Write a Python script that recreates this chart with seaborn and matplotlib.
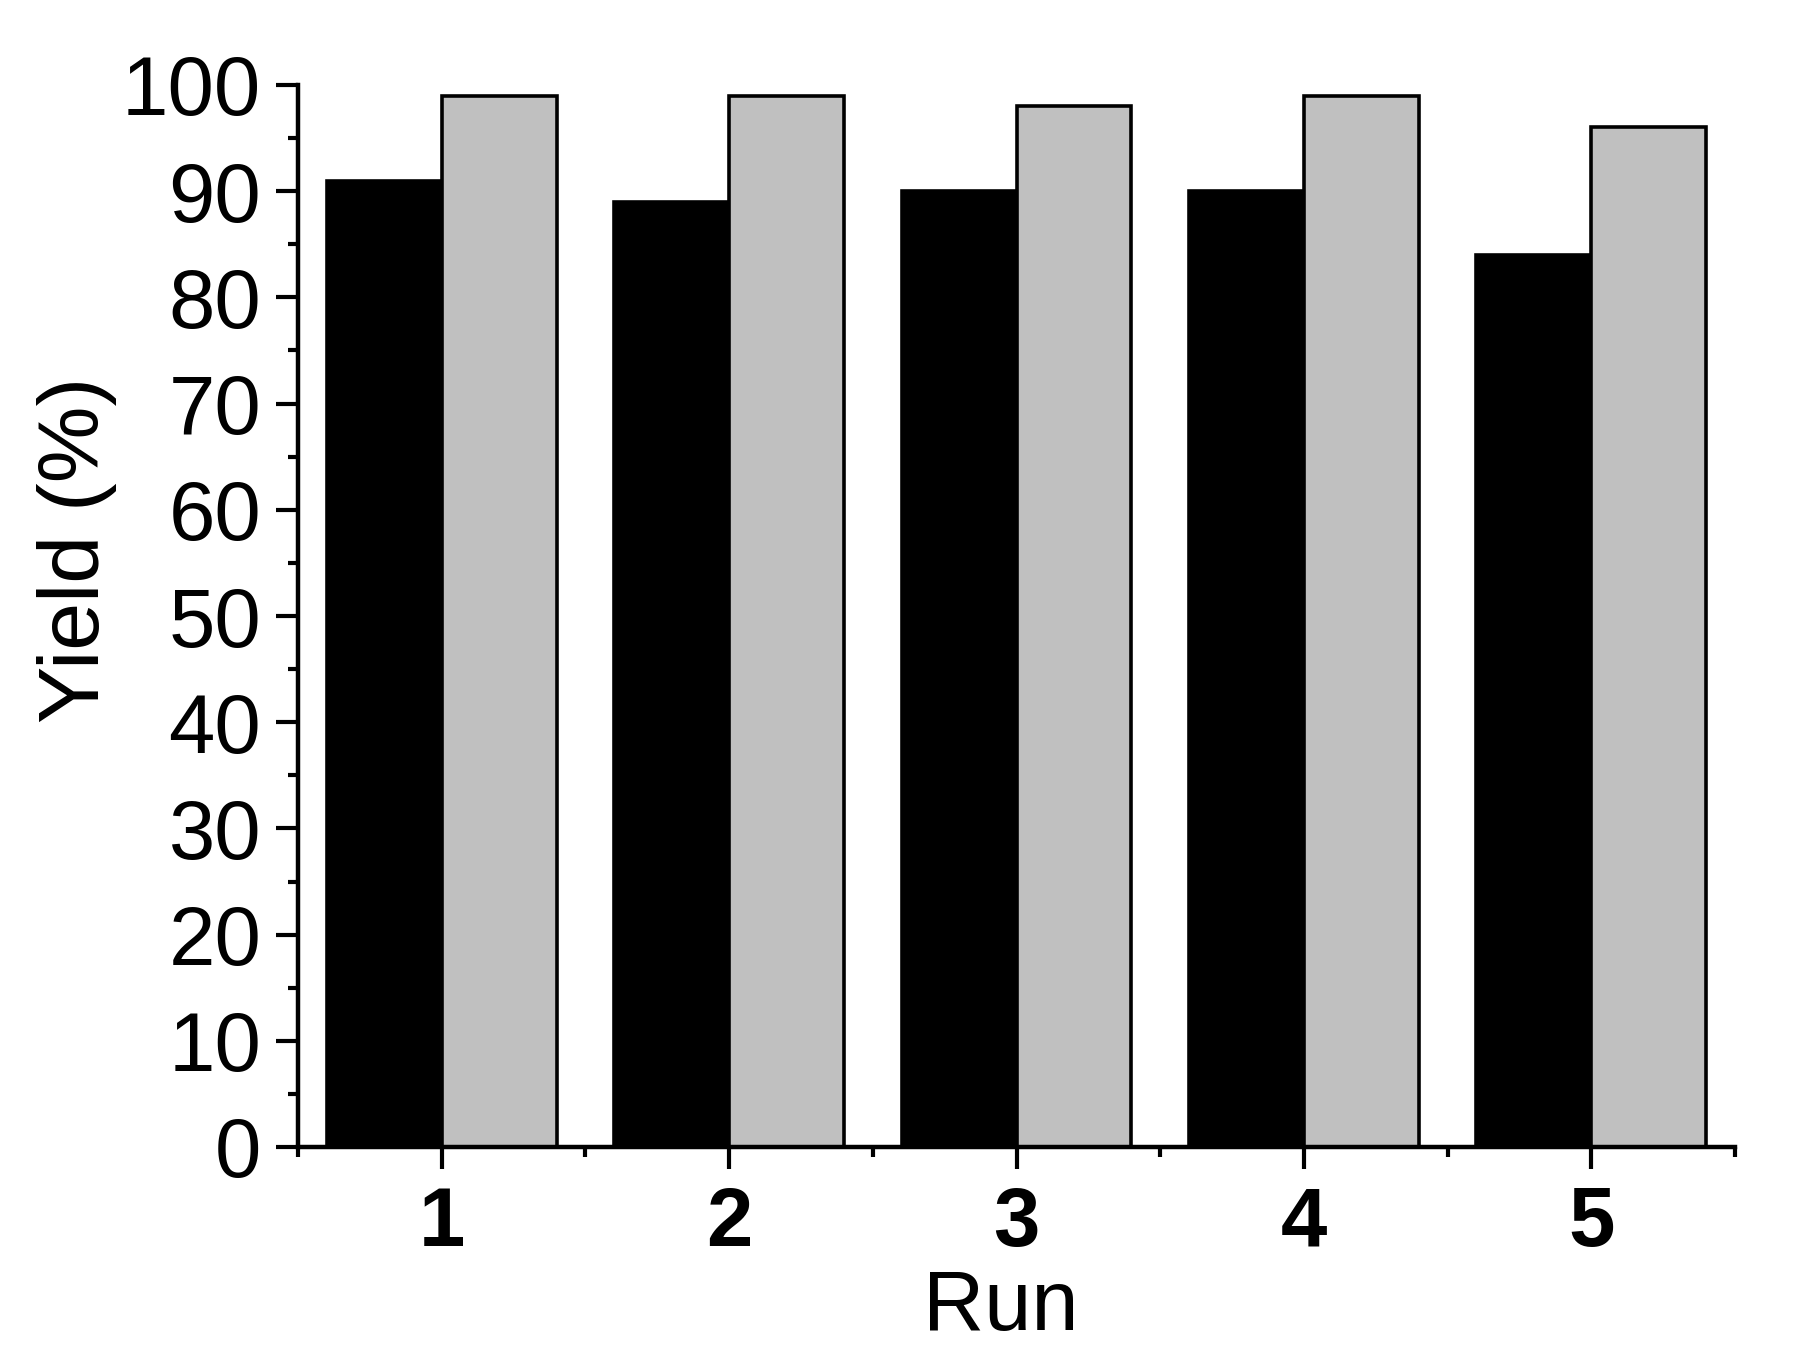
import matplotlib
matplotlib.use("Agg")
import matplotlib.pyplot as plt
from matplotlib.ticker import MultipleLocator, FixedLocator
import seaborn as sns
import pandas as pd

runs = ["1", "2", "3", "4", "5"]
series_a = [91, 89, 90, 90, 84]
series_b = [99, 99, 98, 99, 96]
series_names = ["A", "B"]
colors = ["#000000", "#C0C0C0"]

df = pd.DataFrame({
    "Run": runs * 2,
    "Yield": series_a + series_b,
    "Series": [series_names[0]] * len(runs) + [series_names[1]] * len(runs),
})

sns.set_style("ticks")
plt.rcParams['font.family'] = ['Liberation Sans', 'DejaVu Sans']
plt.rcParams['text.color'] = 'black'
plt.rcParams['axes.labelcolor'] = 'black'
plt.rcParams['xtick.color'] = 'black'
plt.rcParams['ytick.color'] = 'black'

W, H = 1801, 1363
x0, x1, y0, y1 = 298, 1735, 85, 1147
fig = plt.figure(figsize=(W / 100, H / 100), dpi=100)
ax = fig.add_axes([x0 / W, 1 - y1 / H, (x1 - x0) / W, (y1 - y0) / H])

sns.barplot(data=df, x="Run", y="Yield", hue="Series", palette=colors,
            edgecolor="black", linewidth=2.6, legend=False, ax=ax,
            saturation=1, width=0.8)

ax.set_ylim(0, 100)
ax.set_xlim(-0.5, 4.5)
ax.yaxis.set_major_locator(MultipleLocator(10))
ax.yaxis.set_minor_locator(MultipleLocator(5))
ax.xaxis.set_minor_locator(FixedLocator([-0.5, 0.5, 1.5, 2.5, 3.5, 4.5]))

for s in ["top", "right"]:
    ax.spines[s].set_visible(False)
for s in ["left", "bottom"]:
    ax.spines[s].set_linewidth(3.2)
    ax.spines[s].set_color("black")
    ax.spines[s].set_capstyle("projecting")

ax.tick_params(axis="both", which="major", direction="out", length=15.5,
               width=3.0, color="black", labelcolor="black")
ax.tick_params(axis="both", which="minor", direction="out", length=7.5,
               width=3.0, color="black")
ax.tick_params(axis="y", which="major", labelsize=60, pad=11)
ax.tick_params(axis="x", which="major", labelsize=60, pad=12)
for lbl in ax.get_xticklabels():
    lbl.set_fontweight("bold")

ax.set_xlabel("Run", fontsize=61, color="black")
ax.xaxis.set_label_coords(0.489, -0.114)
ax.set_ylabel("Yield (%)", fontsize=62, color="black")
ax.yaxis.set_label_coords(-0.126, 0.562)

fig.savefig("out.png", dpi=100, facecolor="white")
